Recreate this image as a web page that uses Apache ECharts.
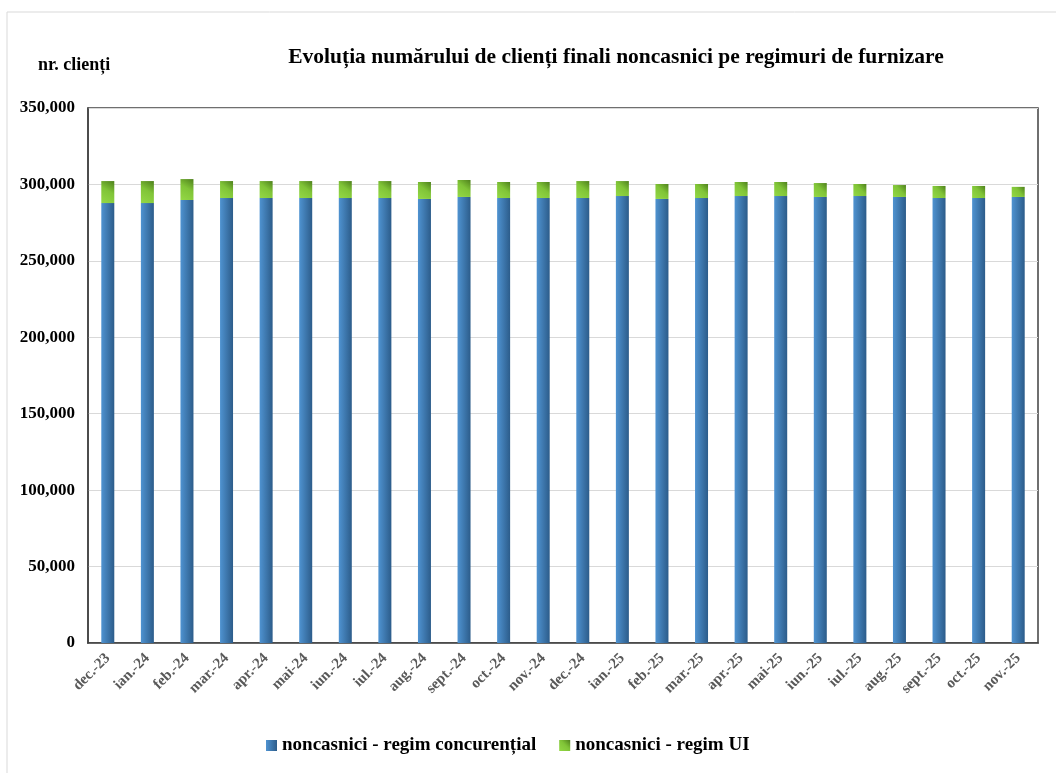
<!DOCTYPE html>
<html>
<head>
<meta charset="utf-8">
<script src="https://cdn.jsdelivr.net/npm/echarts@6/dist/echarts.min.js"></script>
<style>
html,body{margin:0;padding:0;background:#fff;}
#chart{width:1056px;height:773px;}
</style>
</head>
<body>
<div id="chart"></div>
<script>
var categories = ['dec.-23','ian.-24','feb.-24','mar.-24','apr.-24','mai-24','iun.-24','iul.-24','aug.-24','sept.-24','oct.-24','nov.-24','dec.-24','ian.-25','feb.-25','mar.-25','apr.-25','mai-25','iun.-25','iul.-25','aug.-25','sept.-25','oct.-25','nov.-25'];
var concurential = [287800,287800,289800,291100,291100,291100,291100,291100,290500,291800,291100,291100,291100,292400,290500,291100,292400,292400,291800,292400,291800,291100,291100,291800];
var totalClients = [302200,302200,303500,302200,302200,302200,302200,302200,301600,302900,301600,301600,302200,302200,300300,300300,301600,301600,300900,300300,299600,299000,299000,298400];
var regimUI = totalClients.map(function(t,i){return t - concurential[i];});
var yTicks = [0,50000,100000,150000,200000,250000,300000,350000];

var serif = '"Liberation Serif","Times New Roman",serif';
var blueGrad = new echarts.graphic.LinearGradient(0,0,1,0,[{offset:0,color:'#4F93D1'},{offset:1,color:'#2C5C8A'}]);
var greenGrad = new echarts.graphic.LinearGradient(0,1,1,0,[{offset:0,color:'#94D846'},{offset:0.55,color:'#80C437'},{offset:1,color:'#4E801C'}]);

var chart = echarts.init(document.getElementById('chart'), null, {renderer:'canvas'});
chart.setOption({
  animation:false,
  backgroundColor:'#fff',
  graphic:[
    {type:'rect',shape:{x:7,y:12,width:1100,height:800},style:{fill:'none',stroke:'#d9d9d9',lineWidth:1},silent:true,z:-10},
    {type:'text',x:616,y:46,style:{text:'Evoluția numărului de clienți finali noncasnici pe regimuri de furnizare',font:'bold 21.5px '+serif,fill:'#000',textAlign:'center'}},
    {type:'text',x:38,y:56,style:{text:'nr. clienți',font:'bold 18px '+serif,fill:'#000'}}
  ],
  legend:{
    bottom:13,
    left:261,
    icon:'rect',
    itemWidth:11,
    itemHeight:11,
    itemGap:23,
    textStyle:{fontFamily:serif,fontWeight:'bold',fontSize:19,color:'#000'},
    data:['noncasnici - regim concurențial','noncasnici - regim UI']
  },
  grid:{left:88,right:18,top:108,bottom:130,show:true,borderColor:'#404040',borderWidth:1.5,containLabel:false},
  xAxis:{
    type:'category',
    data:categories,
    axisLine:{lineStyle:{color:'#404040',width:1.5}},
    axisTick:{show:false},
    axisLabel:{interval:0,rotate:45,margin:13,color:'#595959',fontFamily:serif,fontWeight:'bold',fontSize:15}
  },
  yAxis:{
    type:'value',
    min:yTicks[0],
    max:yTicks[yTicks.length-1],
    interval:50000,
    axisLine:{show:true,lineStyle:{color:'#404040',width:1.5}},
    axisTick:{show:false},
    splitLine:{lineStyle:{color:'#d9d9d9'}},
    axisLabel:{margin:13,color:'#000',fontFamily:serif,fontWeight:'bold',fontSize:17,
      formatter:function(v){return v.toString().replace(/\B(?=(\d{3})+(?!\d))/g,',');}}
  },
  series:[
    {name:'noncasnici - regim concurențial',type:'bar',stack:'a',barWidth:13,data:concurential,itemStyle:{color:blueGrad}},
    {name:'noncasnici - regim UI',type:'bar',stack:'a',barWidth:13,data:regimUI,itemStyle:{color:greenGrad}}
  ]
});
</script>
</body>
</html>
